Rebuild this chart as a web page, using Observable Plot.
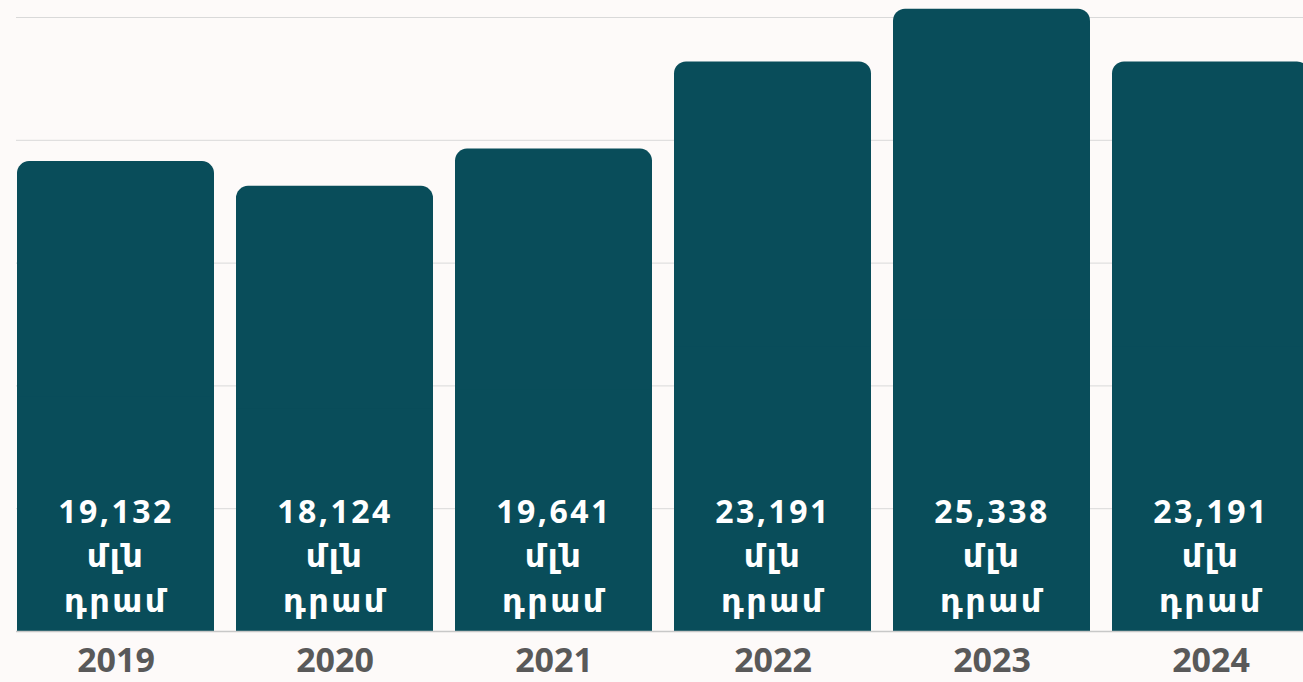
<!DOCTYPE html>
<html>
<head>
<meta charset="utf-8">
<script src="https://cdn.jsdelivr.net/npm/d3@7"></script>
<script src="https://cdn.jsdelivr.net/npm/@observablehq/plot@0.6"></script>
<style>
  html, body { margin: 0; padding: 0; background: #fdfaf9; }
  #chart { width: 1303px; height: 682px; overflow: hidden; }
</style>
</head>
<body>
<div id="chart"></div>
<script>
const years = ["2019", "2020", "2021", "2022", "2023", "2024"];
const values = [19132, 18124, 19641, 23191, 25338, 23191];
const gridTicks = [0, 5000, 10000, 15000, 20000, 25000];
const unitLine1 = "մլն";
const unitLine2 = "դրամ";

const data = years.map((y, i) => ({year: y, value: values[i]}));
const fmt = d3.format(",");
const barColor = "#094d5a";

const plot = Plot.plot({
  width: 1303,
  height: 682,
  marginTop: 0,
  marginBottom: 51,
  marginLeft: 16,
  marginRight: 0,
  style: {background: "#fdfaf9", overflow: "hidden"},
  x: {domain: years, range: [16, 1310.5], paddingInner: 0.1, paddingOuter: 0, label: null},
  y: {domain: [0, 25000], range: [631, 17], axis: null},
  marks: [
    Plot.ruleY(gridTicks, {y: d => d, stroke: "#d9d9d9", strokeWidth: 1}),
    Plot.barY(data, {x: "year", y: "value", fill: barColor, rx: 12}),
    Plot.barY(data, {x: "year", y: d => d.value / 2, fill: barColor}),
    Plot.ruleY([0], {stroke: "#c8c8c8", strokeWidth: 1.5}),
    Plot.text(data, {
      x: "year",
      y: d => 0,
      text: d => `${fmt(d.value)}\n${unitLine1}\n${unitLine2}`,
      fill: "white",
      fontSize: 32,
      fontWeight: 700,
      fontFamily: "Open Sans, DejaVu Sans, sans-serif",
      lineHeight: 1.38,
      lineAnchor: "bottom",
      dy: -20
    }),
    Plot.axisX({
      tickSize: 0,
      tickPadding: 16,
      fontSize: 34,
      fontWeight: 700,
      fontFamily: "Open Sans, DejaVu Sans, sans-serif",
      color: "#595959",
      label: null
    })
  ]
});

d3.select(plot).selectAll('g[aria-label="text"] text').attr("letter-spacing", "2.5px");
d3.select(plot).selectAll('g[aria-label="x-axis tick label"] text').attr("fill", "#595959");
document.getElementById("chart").appendChild(plot);
</script>
</body>
</html>
